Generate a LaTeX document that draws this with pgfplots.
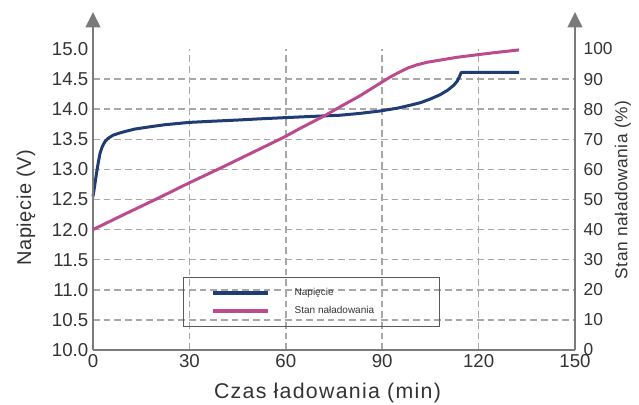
\documentclass[border=0pt]{standalone}
\usepackage{fontspec}
\setmainfont{Liberation Sans}
\newfontfamily\xlabfont[LetterSpace=6]{Liberation Sans}
\newfontfamily\ylabfont[LetterSpace=3]{Liberation Sans}
\usepackage{pgfplots}
\pgfplotsset{compat=1.18}
\usetikzlibrary{arrows.meta}
\definecolor{navy}{HTML}{1F3D73}
\definecolor{pinkc}{HTML}{BC4A8E}
\definecolor{gridc}{HTML}{A8A8A8}
\definecolor{axc}{HTML}{7A7A7A}
\definecolor{txt}{HTML}{333333}

\pgfplotstableread{
t v
0 12.55
0.5 12.72
1.1 12.94
1.7 13.13
2.2 13.27
2.9 13.38
3.7 13.46
4.8 13.52
6.3 13.57
8 13.60
10 13.63
13 13.67
16.7 13.70
22 13.74
29.7 13.78
37 13.80
45 13.82
52 13.84
59.8 13.86
68 13.88
76.9 13.90
83 13.93
89.3 13.97
95 14.02
99 14.07
102 14.11
105 14.17
108 14.24
110.5 14.32
112.3 14.40
113.4 14.47
114.1 14.55
114.6 14.61
132.6 14.61
}\voltage

\pgfplotstableread{
t s
0 40
10 45.2
20 50.3
29.7 55.4
40 60.6
50 65.8
59.8 70.9
64.4 73.6
72.2 77.9
76.9 80.8
83 84.4
89.3 88.6
92.5 90.7
95.5 92.4
98 93.7
100.7 94.7
104 95.6
108 96.3
113 97.2
118.9 98.0
125 98.8
132.6 99.7
}\charge

\begin{document}
\begin{tikzpicture}
\path[use as bounding box] (0,0) rectangle (479.25pt,303pt);
\begin{axis}[
  at={(69.75pt,40.5pt)}, anchor=south west,
  scale only axis, width=361.5pt, height=225.75pt,
  xmin=0, xmax=150, ymin=10, ymax=15,
  axis line style={draw=none},
  xtick={0,30,...,150}, ytick={10,10.5,...,15},
  xtick pos=bottom, ytick pos=left,
  major tick length=0pt,
  xmajorgrids,
  extra y ticks={10.5,11,...,14.5}, extra y tick labels={},
  extra y tick style={grid=major},
  grid style={gridc, line width=1.1pt, dash pattern=on 5pt off 3pt},
  y tick label style={/pgf/number format/.cd, fixed, fixed zerofill, precision=1},
  /pgf/number format/assume math mode=true,
  tick label style={font=\fontsize{14}{16}\selectfont, text=txt},
  xlabel={\xlabfont Czas ładowania (min)},
  every axis x label/.style={at={(axis description cs:0.4865,0)}, anchor=center, yshift=-32.6pt, font=\fontsize{16}{18}\selectfont, text=txt},
  ylabel={\ylabfont Napięcie (V)},
  every axis y label/.style={at={([xshift=-50.25pt]axis description cs:0,0.473)}, anchor=center, rotate=90, font=\fontsize{15}{17}\selectfont, text=txt},
  clip=false,
]
\addplot[navy, line width=2.25pt, line join=round] table[x=t, y=v] {\voltage};
\draw[axc, line width=1.5pt] (axis cs:0,10) -- (axis cs:150,10);
\draw[axc, line width=1.5pt, -{Triangle[width=11pt,length=11.5pt]}] (axis cs:0,10) -- ([yshift=27.75pt]axis cs:0,15);
\draw[axc, line width=1.5pt, -{Triangle[width=11pt,length=11.5pt]}] (axis cs:150,10) -- ([yshift=27.75pt]axis cs:150,15);
\end{axis}
\begin{axis}[
  at={(69.75pt,40.5pt)}, anchor=south west,
  scale only axis, width=361.5pt, height=225.75pt,
  xmin=0, xmax=150, ymin=0, ymax=100,
  axis line style={draw=none},
  xtick=\empty, ytick={0,10,...,100},
  ytick pos=right, yticklabel pos=right,
  major tick length=0pt,
  /pgf/number format/assume math mode=true,
  y tick label style={font=\fontsize{13}{15}\selectfont, text=txt, xshift=3pt},
  ylabel={\ylabfont Stan naładowania (\%)},
  every axis y label/.style={at={([xshift=36pt]axis description cs:1,0.532)}, anchor=center, rotate=90, font=\fontsize{13}{15}\selectfont, text=txt},
  clip=false,
  legend style={at={(axis description cs:0.1867,0.2425)}, anchor=north west,
    draw=black!65, line width=1pt, fill=none, inner xsep=20.25pt, inner ysep=8pt,
    font=\fontsize{7.5}{9}\selectfont, text=txt, column sep=18.75pt, row sep=6.6pt,
    nodes={inner sep=0pt}},
  legend cell align=left,
  legend image code/.code={\draw[#1, line width=3pt] (0pt,0pt) -- (41.25pt,0pt);},
]
\addlegendimage{navy, line width=2.25pt}
\addlegendentry{\makebox[88.5pt][l]{Napięcie}}
\addplot[pinkc, line width=2.25pt, line join=round] table[x=t, y=s] {\charge};
\addlegendentry{\makebox[88.5pt][l]{Stan naładowania}}
\end{axis}
\end{tikzpicture}
\end{document}
